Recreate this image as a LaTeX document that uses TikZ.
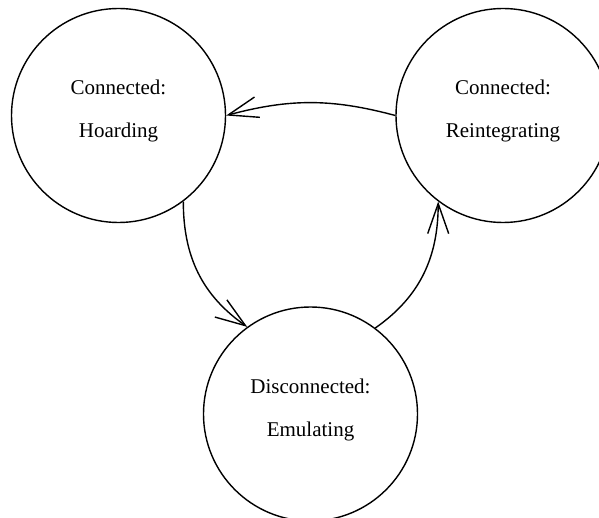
\documentclass[tikz,border=0pt]{standalone}
\usepackage{fontspec}
\setmainfont{Liberation Serif}
\usetikzlibrary{arrows.meta, positioning}

\begin{document}
\begin{tikzpicture}[x=1pt, y=-1pt,
  state/.style={circle, draw, line width=1.4pt, minimum size=214pt, inner sep=0pt},
  statetxt/.style={align=center, font=\fontsize{21}{43}\selectfont},
  trans/.style={line width=1.4pt, -{Straight Barb[length=30pt, width=21pt]}}
]
\useasboundingbox (0,0) rectangle (599,518);

% Zustaende
\node[state] (hoard) at (118.5,115.5) {};
\node[state] (reint) at (503,115.5) {};
\node[state] (emul)  at (310.5,414) {};

\node[statetxt, yshift=5pt] (hoardtxt) at (hoard) {Connected:\\Hoarding};
\node[statetxt, yshift=5pt] (reinttxt) at (reint) {Connected:\\Reintegrating};
\node[statetxt, yshift=4.5pt] (emultxt) at (emul) {Disconnected:\\Emulating};

% Uebergaenge
\draw[trans] (reint.180) to[out=165, in=15] (hoard.0);
\draw[trans] (hoard.-53) to[out=-90, in=145] (emul.126);
\draw[trans] (emul.53) to[out=35, in=-90] (reint.233);

\end{tikzpicture}
\end{document}
